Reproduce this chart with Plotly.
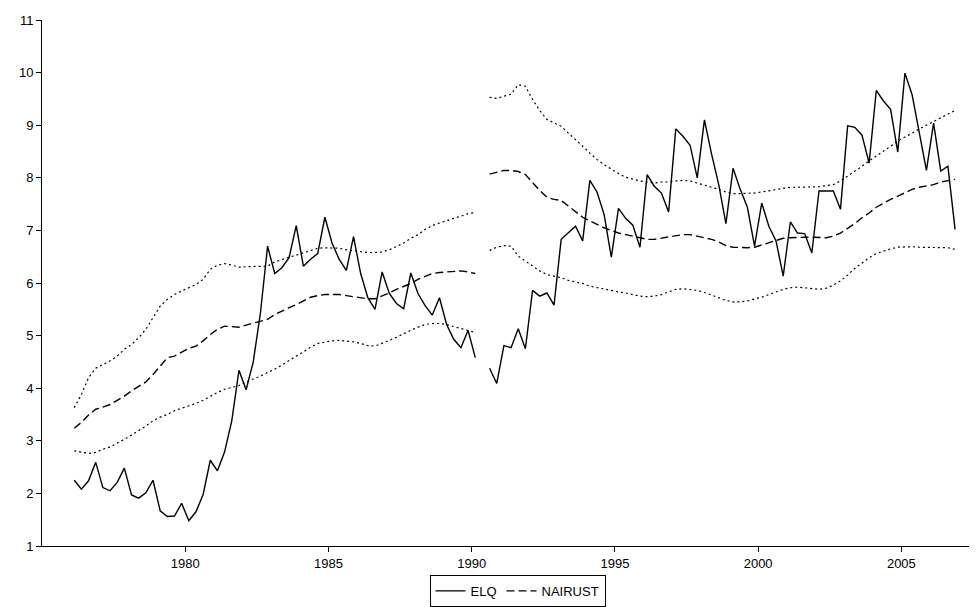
import plotly.graph_objects as go

years = list(range(1976, 2007))
quarters = [1, 2, 3, 4]

elq = [
    2.25, 2.08, 2.24, 2.59,
    2.11, 2.05, 2.21, 2.48,
    1.97, 1.91, 2.01, 2.25,
    1.67, 1.56, 1.57, 1.81,
    1.48, 1.65, 1.98, 2.63,
    2.43, 2.79, 3.38, 4.34,
    3.97, 4.50, 5.43, 6.70,
    6.18, 6.29, 6.48, 7.09,
    6.32, 6.45, 6.56, 7.25,
    6.76, 6.45, 6.24, 6.88,
    6.18, 5.72, 5.50, 6.21,
    5.80, 5.61, 5.51, 6.19,
    5.80, 5.57, 5.39, 5.72,
    5.21, 4.93, 4.77, 5.10,
    4.58, None, 4.38, 4.09,
    4.81, 4.77, 5.13, 4.75,
    5.86, 5.75, 5.81, 5.58,
    6.83, 6.95, 7.08, 6.80,
    7.95, 7.73, 7.30, 6.49,
    7.42, 7.23, 7.10, 6.68,
    8.06, 7.84, 7.71, 7.35,
    8.93, 8.79, 8.62, 8.00,
    9.10, 8.45, 7.87, 7.13,
    8.18, 7.78, 7.44, 6.70,
    7.52, 7.08, 6.80, 6.13,
    7.16, 6.95, 6.94, 6.57,
    7.75, 7.75, 7.75, 7.40,
    8.99, 8.96, 8.81, 8.28,
    9.66, 9.46, 9.30, 8.49,
    9.99, 9.58, 8.85, 8.14,
    9.04, 8.13, 8.22, 7.02,
]

nairust = [
    3.24, 3.35, 3.49, 3.60,
    3.64, 3.69, 3.77, 3.85,
    3.95, 4.04, 4.12, 4.26,
    4.42, 4.58, 4.61, 4.68,
    4.76, 4.80, 4.90, 5.02,
    5.12, 5.18, 5.17, 5.16,
    5.20, 5.24, 5.28, 5.31,
    5.40, 5.47, 5.53, 5.59,
    5.66, 5.73, 5.76, 5.78,
    5.78, 5.78, 5.76, 5.74,
    5.72, 5.70, 5.70, 5.75,
    5.81, 5.88, 5.94, 5.99,
    6.07, 6.13, 6.18, 6.20,
    6.21, 6.22, 6.23, 6.21,
    6.18, None, 8.07, 8.11,
    8.14, 8.14, 8.12, 8.06,
    7.90, 7.76, 7.63, 7.59,
    7.57, 7.46, 7.35, 7.25,
    7.18, 7.11, 7.05, 7.00,
    6.95, 6.92, 6.89, 6.85,
    6.83, 6.83, 6.85, 6.87,
    6.90, 6.92, 6.92, 6.89,
    6.86, 6.83, 6.78, 6.71,
    6.68, 6.67, 6.67, 6.68,
    6.72, 6.76, 6.81, 6.85,
    6.86, 6.87, 6.87, 6.87,
    6.86, 6.86, 6.89, 6.95,
    7.04, 7.13, 7.24, 7.33,
    7.44, 7.52, 7.59, 7.65,
    7.71, 7.78, 7.82, 7.84,
    7.87, 7.92, 7.95, 7.97,
]

upper = [
    3.63, 3.88, 4.20, 4.38,
    4.45, 4.52, 4.61, 4.74,
    4.83, 4.96, 5.12, 5.34,
    5.56, 5.69, 5.78, 5.85,
    5.91, 5.97, 6.07, 6.26,
    6.34, 6.37, 6.34, 6.30,
    6.31, 6.31, 6.31, 6.32,
    6.40, 6.45, 6.49, 6.53,
    6.57, 6.62, 6.66, 6.67,
    6.67, 6.66, 6.63, 6.61,
    6.59, 6.58, 6.58, 6.59,
    6.63, 6.70, 6.76, 6.85,
    6.92, 7.02, 7.09, 7.14,
    7.19, 7.23, 7.27, 7.32,
    7.34, None, 9.53, 9.51,
    9.55, 9.59, 9.77, 9.74,
    9.49, 9.28, 9.11, 9.04,
    8.98, 8.85, 8.73, 8.60,
    8.47, 8.35, 8.25, 8.16,
    8.08, 8.01, 7.97, 7.94,
    7.92, 7.90, 7.92, 7.92,
    7.94, 7.95, 7.94, 7.90,
    7.87, 7.82, 7.78, 7.73,
    7.70, 7.70, 7.70, 7.71,
    7.73, 7.75, 7.77, 7.80,
    7.82, 7.82, 7.82, 7.82,
    7.83, 7.85, 7.87, 7.94,
    8.03, 8.13, 8.22, 8.32,
    8.41, 8.51, 8.60, 8.70,
    8.77, 8.85, 8.93, 9.00,
    9.06, 9.13, 9.20, 9.28,
]

lower = [
    2.81, 2.78, 2.76, 2.78,
    2.84, 2.88, 2.95, 3.03,
    3.11, 3.19, 3.28, 3.38,
    3.45, 3.50, 3.57, 3.62,
    3.66, 3.71, 3.77, 3.85,
    3.92, 3.98, 4.01, 4.05,
    4.12, 4.17, 4.23, 4.30,
    4.36, 4.44, 4.53, 4.61,
    4.69, 4.78, 4.85, 4.88,
    4.90, 4.91, 4.90, 4.88,
    4.85, 4.81, 4.80, 4.85,
    4.91, 4.97, 5.04, 5.10,
    5.16, 5.21, 5.23, 5.23,
    5.21, 5.17, 5.14, 5.10,
    5.06, None, 6.62, 6.68,
    6.71, 6.70, 6.51, 6.42,
    6.32, 6.23, 6.16, 6.13,
    6.10, 6.05, 6.02, 5.99,
    5.94, 5.91, 5.89, 5.86,
    5.83, 5.81, 5.78, 5.75,
    5.74, 5.75, 5.78, 5.83,
    5.88, 5.89, 5.88, 5.86,
    5.82, 5.77, 5.72, 5.67,
    5.64, 5.64, 5.66, 5.69,
    5.73, 5.78, 5.83, 5.88,
    5.91, 5.92, 5.91, 5.90,
    5.88, 5.90, 5.96, 6.04,
    6.15, 6.28, 6.38, 6.48,
    6.56, 6.61, 6.65, 6.68,
    6.69, 6.69, 6.68, 6.68,
    6.68, 6.67, 6.67, 6.64,
]

x_tick_vals = [1980, 1985, 1990, 1995, 2000, 2005]
y_tick_vals = list(range(1, 12))

# quarter positions (mid-quarter)
xq = [y + (q - 0.5) / 4 for y in years for q in quarters]

fig = go.Figure()
band_line = dict(color="black", width=1.2, dash="2px,3px")
fig.add_trace(go.Scatter(x=xq, y=upper, mode="lines", line=band_line,
                         showlegend=False, connectgaps=False, hoverinfo="skip"))
fig.add_trace(go.Scatter(x=xq, y=lower, mode="lines", line=band_line,
                         showlegend=False, connectgaps=False, hoverinfo="skip"))
fig.add_trace(go.Scatter(x=xq, y=nairust, mode="lines", name="NAIRUST",
                         line=dict(color="black", width=1.4, dash="8px,4px"),
                         connectgaps=False))
fig.add_trace(go.Scatter(x=xq, y=elq, mode="lines", name="ELQ",
                         line=dict(color="black", width=1.4),
                         connectgaps=False))

fig.update_layout(
    width=977, height=607,
    margin=dict(l=34, r=0, t=12, b=69),
    paper_bgcolor="white", plot_bgcolor="white",
    font=dict(family="Liberation Sans, Arial, sans-serif", size=13, color="black"),
    showlegend=True,
    legend=dict(orientation="h", xref="container", x=0.5215, xanchor="center",
                yref="container", y=0.066, yanchor="top",
                bordercolor="black", borderwidth=1, bgcolor="white",
                traceorder="reversed", itemwidth=30,
                font=dict(size=13, color="black"), tracegroupgap=0),
)
fig.update_xaxes(range=[1975, 2007.92], tickvals=x_tick_vals,
                 showgrid=False, zeroline=False, showline=True, linecolor="black",
                 linewidth=1, ticks="outside", ticklen=5, tickcolor="black",
                 tickfont=dict(size=13, color="black"), automargin=False)
fig.update_yaxes(range=[1, 11], tickvals=y_tick_vals,
                 showgrid=False, zeroline=False, showline=True, linecolor="black",
                 linewidth=1, ticks="outside", ticklen=5, tickcolor="black",
                 tickfont=dict(size=13, color="black"), automargin=False)

fig.write_html("out.html")
